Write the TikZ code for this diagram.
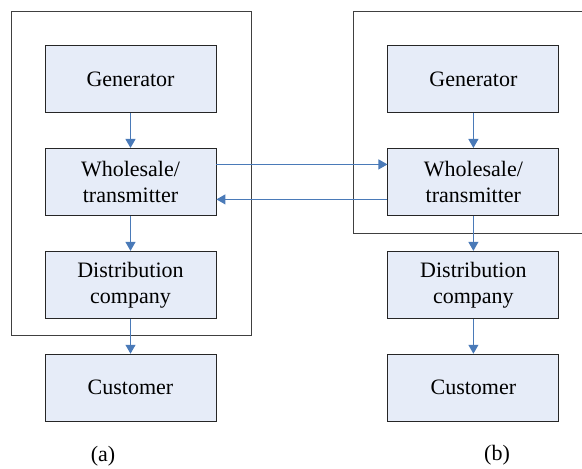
\documentclass[tikz,border=0pt]{standalone}
\usepackage{fontspec}
\setmainfont{Liberation Serif}
\usetikzlibrary{positioning,arrows.meta}
\definecolor{boxfill}{RGB}{230,236,248}
\definecolor{flowblue}{RGB}{74,122,184}
\begin{document}
\begin{tikzpicture}[
    x=1pt, y=-1pt,
    node distance=35pt,
    block/.style={
      rectangle,
      minimum width=171pt,
      minimum height=67pt,
      text centered,
      align=center,
      draw=black!85,
      fill=boxfill,
      line width=0.9pt,
      inner sep=0pt,
      font=\fontsize{22}{26}\selectfont,
      text=black
    },
    arrow/.style={
      draw=flowblue,
      line width=1.1pt,
      -{Triangle[width=10pt,length=9pt]}
    },
    frame/.style={
      draw=black!75,
      line width=0.9pt
    },
    caption/.style={
      font=\fontsize{22}{26}\selectfont,
      text=black
    }
  ]
    \useasboundingbox (0,0) rectangle (582,469);

    % Market structure (a)
    \node (gena) [block] at (130.5,79) {Generator};
    \node (wsa) [block, below=of gena] {Wholesale/\\transmitter};
    \node (disa) [block, below=of wsa] {Distribution\\company};
    \node (cusa) [block, below=of disa] {Customer};

    % Market structure (b)
    \node (genb) [block, right=171pt of gena] {Generator};
    \node (wsb) [block, below=of genb] {Wholesale/\\transmitter};
    \node (disb) [block, below=of wsb] {Distribution\\company};
    \node (cusb) [block, below=of disb] {Customer};

    % Frames round the integrated parts
    \draw [frame] (11,11) rectangle (251,335);
    \draw [frame] (582,11) -- (353,11) -- (353,233) -- (582,233);

    % Flows inside each structure
    \draw [arrow] (gena) -- (wsa);
    \draw [arrow] (wsa) -- (disa);
    \draw [arrow] (disa) -- (cusa);
    \draw [arrow] (genb) -- (wsb);
    \draw [arrow] (wsb) -- (disb);
    \draw [arrow] (disb) -- (cusb);

    % Trade between the two wholesalers
    \draw [arrow] ([yshift=17.5pt]wsa.east) -- ([yshift=17.5pt]wsb.west);
    \draw [arrow] ([yshift=-17.5pt]wsb.west) -- ([yshift=-17.5pt]wsa.east);

    % Captions
    \node (capa) [caption] at (103,456) {(a)};
    \node (capb) [caption] at (497,455) {(b)};

\end{tikzpicture}
\end{document}
